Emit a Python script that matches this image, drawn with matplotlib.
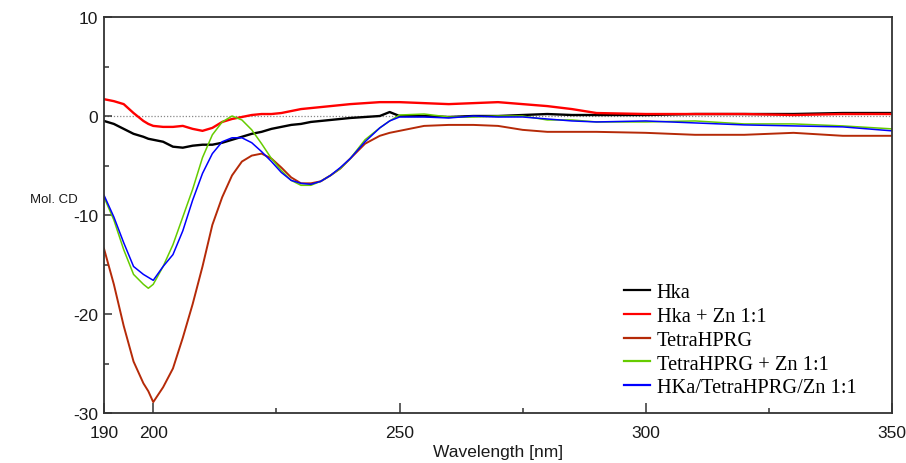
import numpy as np
import matplotlib
matplotlib.use("Agg")
import matplotlib.pyplot as plt
from matplotlib.ticker import MultipleLocator, FixedLocator

# ---- data ----
wavelength = [190, 192, 194, 196, 198, 199, 200, 202, 204, 206, 208, 210, 212, 214, 216,
              218, 220, 222, 224, 226, 228, 230, 232, 234, 236, 238, 240, 243, 246, 248,
              250, 255, 260, 265, 270, 275, 280, 285, 290, 300, 310, 320, 330, 340, 350]

hka = [-0.5, -0.8, -1.3, -1.8, -2.1, -2.3, -2.4, -2.6, -3.1, -3.2, -3.0, -2.9, -2.9, -2.7, -2.4,
       -2.1, -1.8, -1.6, -1.3, -1.1, -0.9, -0.8, -0.6, -0.5, -0.4, -0.3, -0.2, -0.1, 0.0, 0.4,
       0.0, 0.0, -0.1, 0.0, 0.0, 0.1, 0.2, 0.1, 0.1, 0.1, 0.2, 0.2, 0.2, 0.3, 0.3]

hka_zn = [1.7, 1.5, 1.2, 0.3, -0.5, -0.8, -1.0, -1.1, -1.1, -1.0, -1.3, -1.5, -1.2, -0.6, -0.3,
          -0.1, 0.1, 0.2, 0.2, 0.3, 0.5, 0.7, 0.8, 0.9, 1.0, 1.1, 1.2, 1.3, 1.4, 1.4,
          1.4, 1.3, 1.2, 1.3, 1.4, 1.2, 1.0, 0.7, 0.3, 0.2, 0.2, 0.2, 0.1, 0.2, 0.2]

tetra = [-13.4, -17.0, -21.2, -24.8, -27.0, -27.8, -28.9, -27.4, -25.5, -22.4, -19.0, -15.2, -11.0, -8.2, -6.0,
         -4.6, -4.0, -3.8, -4.3, -5.2, -6.2, -6.8, -6.8, -6.6, -6.0, -5.3, -4.3, -2.8, -2.0, -1.7,
         -1.5, -1.0, -0.9, -0.9, -1.0, -1.4, -1.6, -1.6, -1.6, -1.7, -1.9, -1.9, -1.7, -2.0, -2.0]

tetra_zn = [-8.2, -10.5, -13.5, -16.0, -17.0, -17.4, -17.0, -15.2, -13.0, -10.2, -7.4, -4.2, -1.9, -0.6, 0.0,
            -0.4, -1.4, -2.8, -4.3, -5.5, -6.5, -7.0, -7.0, -6.6, -6.0, -5.3, -4.3, -2.4, -1.2, -0.5,
            0.1, 0.2, -0.1, -0.1, 0.0, 0.0, -0.4, -0.4, -0.6, -0.6, -0.5, -0.8, -0.8, -1.0, -1.3]

hka_tetra_zn = [-8.0, -10.2, -12.8, -15.2, -16.0, -16.3, -16.6, -15.2, -14.0, -11.6, -8.5, -5.8, -3.8, -2.6, -2.2,
                -2.2, -2.7, -3.6, -4.6, -5.7, -6.5, -6.8, -6.9, -6.6, -6.0, -5.2, -4.3, -2.6, -1.2, -0.5,
                -0.1, -0.1, -0.2, 0.0, -0.1, -0.1, -0.3, -0.5, -0.6, -0.5, -0.7, -0.9, -1.0, -1.1, -1.5]

labels = ["Hka", "Hka + Zn 1:1", "TetraHPRG", "TetraHPRG + Zn 1:1", "HKa/TetraHPRG/Zn 1:1"]
colors = ["#000000", "#ff0000", "#b52a08", "#66cc00", "#0000ff"]
widths = [1.7, 1.7, 1.4, 1.1, 1.1]
xticks = [190, 200, 250, 300, 350]
yticks = [-30, -20, -10, 0, 10]

# ---- figure ----
fig = plt.figure(figsize=(9.06, 4.64), dpi=100)
ax = fig.add_axes([104/906, 50/464, 788/906, 396/464])

ax.axhline(0, color="#888888", lw=0.9, ls=(0, (1, 1.5)), zorder=1)

series = [hka, hka_zn, tetra, tetra_zn, hka_tetra_zn]
for ys, lab, c, w in zip(series, labels, colors, widths):
    ax.plot(wavelength, ys, color=c, lw=w, label=lab, zorder=2)

ax.set_xlim(190, 350)
ax.set_ylim(-30, 10)
ax.xaxis.set_major_locator(FixedLocator(xticks))
ax.xaxis.set_minor_locator(FixedLocator([225, 275, 325]))
ax.yaxis.set_major_locator(FixedLocator(yticks))
ax.yaxis.set_minor_locator(MultipleLocator(5))

tick_font = dict(family="Liberation Sans", size=12.5)
ax.set_xticklabels([str(t) for t in xticks], fontdict=tick_font, color="#1a1a1a")
ax.set_yticklabels([str(t) for t in yticks], fontdict=tick_font, color="#1a1a1a")

ax.tick_params(axis="x", which="major", direction="in", length=7, width=1.1, pad=9, color="#333333")
ax.tick_params(axis="x", which="minor", direction="in", length=3.5, width=1.1, color="#333333")
ax.tick_params(axis="y", which="major", direction="in", length=6, width=1.1, pad=4, color="#333333")
ax.tick_params(axis="y", which="minor", direction="in", length=3.5, width=1.1, color="#333333")

for s in ax.spines.values():
    s.set_color("#333333")
    s.set_linewidth(1.3)

fig.text(433/906, 1 - 453/464, "Wavelength [nm]", family="Liberation Sans", size=12.5,
         color="#1a1a1a", ha="left", va="center")
fig.text(30/906, 1 - 200/464, "Mol. CD", family="Liberation Sans", size=9.5,
         color="#1a1a1a", ha="left", va="center")

leg = fig.legend(loc="upper left", bbox_to_anchor=(624/906, 1 - 284/464),
                 bbox_transform=fig.transFigure, frameon=False,
                 prop=dict(family="Liberation Serif", size=14.7),
                 handlelength=1.25, handletextpad=0.35, labelspacing=0.22,
                 borderpad=0, borderaxespad=0)
for h in leg.get_lines():
    h.set_linewidth(1.6)

fig.savefig("out.png", dpi=100)
